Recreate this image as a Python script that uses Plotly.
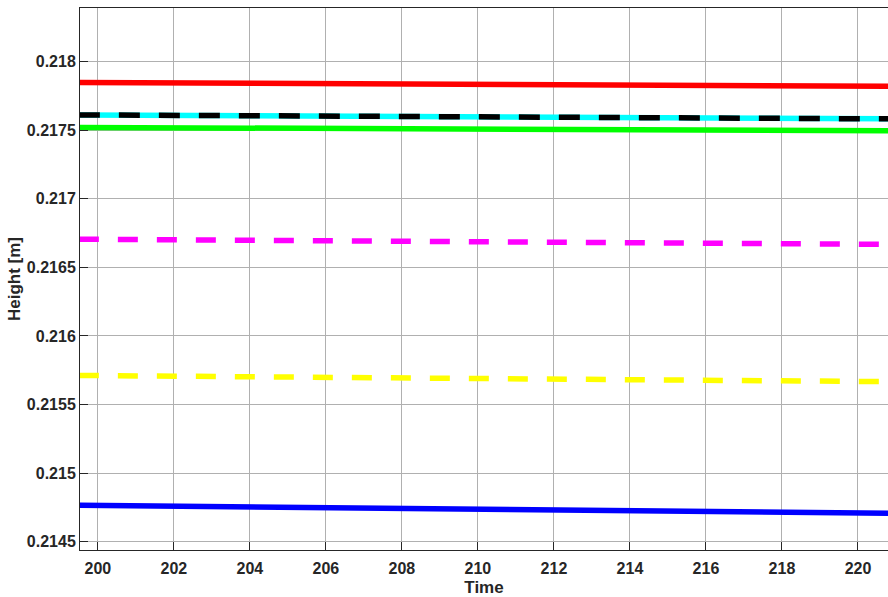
import plotly.graph_objects as go

# Time samples (start, middle, end of the visible window)
time = [199.5, 210.0, 220.8]

# Heights
red_h = [0.217848, 0.217833, 0.217819]
cyan_h = [0.217611, 0.217596, 0.217582]
black_h = [0.217611, 0.217596, 0.217582]
green_h = [0.217520, 0.217507, 0.217495]
magenta_h = [0.216705, 0.216686, 0.216667]
yellow_h = [0.215712, 0.215690, 0.215667]
blue_h = [0.214766, 0.214737, 0.214708]

x_ticks = [200, 202, 204, 206, 208, 210, 212, 214, 216, 218, 220]
y_ticks = [0.2145, 0.215, 0.2155, 0.216, 0.2165, 0.217, 0.2175, 0.218]
y_tick_text = ["0.2145", "0.215", "0.2155", "0.216", "0.2165", "0.217", "0.2175", "0.218"]

series = [
    (red_h, "#ff0000", "solid"),
    (cyan_h, "#00ffff", "solid"),
    (green_h, "#00ff00", "solid"),
    (blue_h, "#0000ff", "solid"),
    (magenta_h, "#ff00ff", "20px,19px"),
    (yellow_h, "#ffff00", "20px,19px"),
    (black_h, "#000000", "21px,19px"),
]

fig = go.Figure()
for vals, col, dash in series:
    fig.add_trace(go.Scatter(x=time, y=vals, mode="lines",
                             line=dict(color=col, width=5.5, dash=dash),
                             showlegend=False, hoverinfo="skip"))

font = dict(family="Liberation Sans, Arial, sans-serif", size=16, color="#262626", weight="bold")
tfont = dict(family="Liberation Sans, Arial, sans-serif", size=17, color="#262626", weight="bold")

fig.update_layout(
    width=888, height=597,
    margin=dict(l=80, r=0, t=8, b=47),
    paper_bgcolor="white", plot_bgcolor="white",
    font=font,
    xaxis=dict(range=[199.53, 220.79], tickvals=x_ticks, ticks="inside", ticklen=8,
               tickcolor="#262626", showline=True, linecolor="#262626", linewidth=1,
               mirror=True, showgrid=True, gridcolor="#b0b0b0", gridwidth=1,
               zeroline=False, automargin=False, ticklabelstandoff=4,
               title=dict(text="Time", font=tfont, standoff=8),
               tickfont=font),
    yaxis=dict(range=[0.21444, 0.21839], tickvals=y_ticks, ticktext=y_tick_text,
               ticks="inside", ticklen=8, tickcolor="#262626", showline=True,
               linecolor="#262626", linewidth=1, mirror=True, showgrid=True,
               gridcolor="#b0b0b0", gridwidth=1, zeroline=False, automargin=False,
               title=dict(text="Height [m]", font=tfont, standoff=1), tickfont=font),
)

fig.write_html("out.html", config={"displayModeBar": False},
               post_script="document.body.style.margin='0';document.body.style.overflow='hidden';")
